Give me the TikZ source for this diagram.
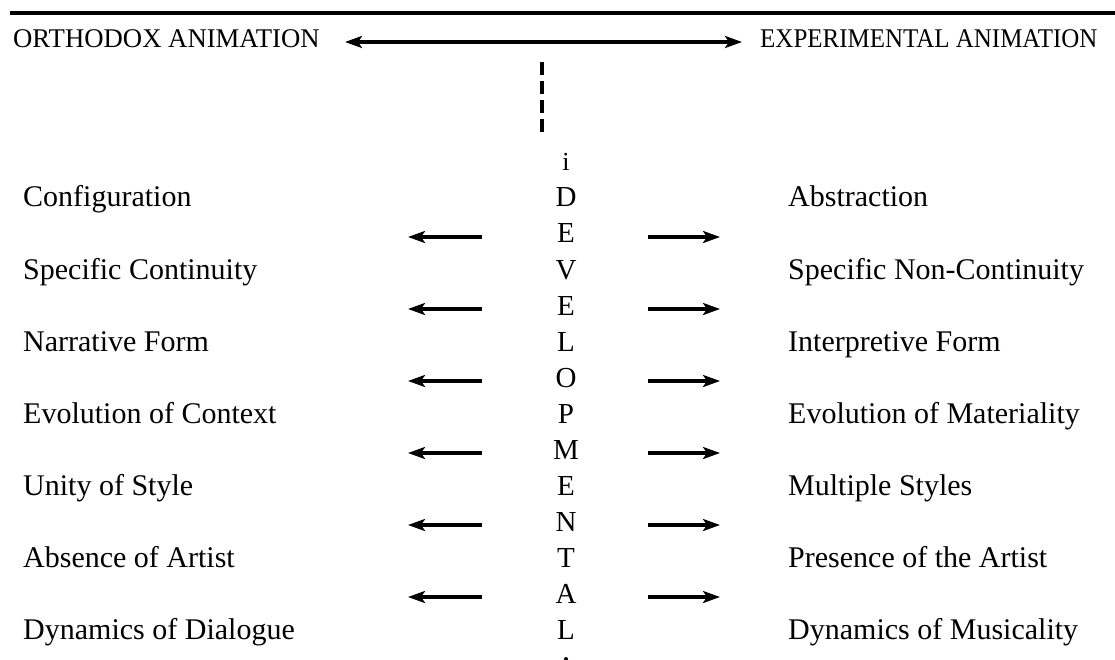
\documentclass[tikz,border=0pt]{standalone}
\usepackage{fontspec}
\setmainfont{Liberation Serif}
\usetikzlibrary{arrows.meta}
\begin{document}
\begin{tikzpicture}[x=1pt,y=-1pt,
  lbl/.style={anchor=base west,inner sep=0pt,font=\fontsize{30}{30}\selectfont},
  ltr/.style={anchor=base,inner sep=0pt,font=\fontsize{29}{29}\selectfont},
  hdr/.style={anchor=base west,inner sep=0pt,font=\fontsize{27}{27}\selectfont},
  arr/.style={line width=3.2pt,-{Stealth[length=17pt,width=12pt,inset=4pt]}}]
\useasboundingbox (0,0) rectangle (1115,660);
\draw[line width=4pt] (10,13.5) -- (1115,13.5);
\node[hdr] (orth) at (13,48) {\scalebox{0.99}[1]{ORTHODOX ANIMATION}};
\node[hdr] (expe) at (760,48) {\scalebox{0.925}[1]{EXPERIMENTAL ANIMATION}};
\coordinate (hl) at (345,42);
\coordinate (hr) at (742,42);
\draw[line width=3.2pt,{Stealth[length=17pt,width=12pt,inset=4pt]}-{Stealth[length=17pt,width=12pt,inset=4pt]}] (hl) -- (hr);
\coordinate (dtop) at (542,62);
\coordinate (dbot) at (542,135);
\draw[line width=3.4pt,dash pattern=on 13pt off 6pt] (dtop) -- (dbot);
\node[ltr,font=\fontsize{26}{26}\selectfont] (li) at (566,171) {i};
\foreach \c [count=\k from 0] in {D,E,V,E,L,O,P,M,E,N,T,A,L}{
  \node[ltr] (c\k) at (566,{207+36*\k}) {\c};
}
\fill (566,659) circle (2pt);
\foreach \t [count=\k from 0] in {Configuration,Specific Continuity,Narrative Form,Evolution of Context,Unity of Style,Absence of Artist,Dynamics of Dialogue}{
  \node[lbl] (l\k) at (23,{207+72*\k}) {\t};
}
\foreach \t [count=\k from 0] in {Abstraction,Specific Non-Continuity,Interpretive Form,Evolution of Materiality,Multiple Styles,Presence of the Artist,Dynamics of Musicality}{
  \node[lbl] (r\k) at (788,{207+72*\k}) {\t};
}
\foreach \k in {0,...,5}{
  \coordinate (al\k) at (482,{237+72*\k});
  \coordinate (alt\k) at (408,{237+72*\k});
  \coordinate (ar\k) at (648,{237+72*\k});
  \coordinate (art\k) at (720,{237+72*\k});
  \draw[arr] (al\k) -- (alt\k);
  \draw[arr] (ar\k) -- (art\k);
}
\end{tikzpicture}
\end{document}
